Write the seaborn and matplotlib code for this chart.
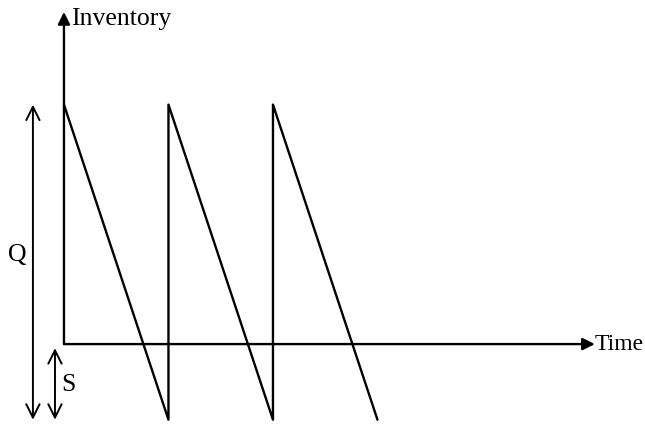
import pandas as pd
import matplotlib
matplotlib.use("Agg")
import matplotlib.pyplot as plt
import seaborn as sns

sns.set_theme(style="white")
plt.rcParams['font.family'] = ['Liberation Serif', 'DejaVu Serif']

# Sawtooth inventory (units: Q = 100, S = 24, cycle length = 1)
Q = 100
S = 24
times = [0, 1, 1, 2, 2, 3]
levels = [Q - S, -S, Q - S, -S, Q - S, -S]

df = pd.DataFrame({'Time': times, 'Inventory': levels})

fig = plt.figure(figsize=(6.45, 4.26), dpi=100)
ax = fig.add_axes([0, 0, 1, 1])

sns.lineplot(data=df, x='Time', y='Inventory', sort=False, estimator=None,
             color='black', linewidth=1.7, ax=ax)

ax.set_xlim(-0.612, 5.56)
ax.set_ylim(-26.0, 109.2)
ax.axis('off')

# axes with filled arrowheads
axis_arrow = dict(arrowstyle='-|>', color='black', lw=1.7, shrinkA=0, shrinkB=0,
                  mutation_scale=18)
ax.annotate('', xy=(0, 105.4), xytext=(0, 0), arrowprops=axis_arrow)
ax.annotate('', xy=(5.08, 0), xytext=(0, 0), arrowprops=axis_arrow)
ax.text(0.07, 103.2, 'Inventory', fontsize=18.5, va='center', ha='left', color='black')
ax.text(5.08, 0, 'Time', fontsize=17, va='center', ha='left', color='black')

# dimension arrows for Q and S
dim_arrow = dict(arrowstyle='<->', color='black', lw=1.4, shrinkA=0, shrinkB=0,
                 mutation_scale=24)
ax.annotate('', xy=(-0.297, Q - S), xytext=(-0.297, -S), arrowprops=dim_arrow)
ax.annotate('', xy=(-0.086, -1.3), xytext=(-0.086, -S), arrowprops=dim_arrow)
ax.text(-0.45, 28.3, 'Q', fontsize=18.5, va='center', ha='center', color='black')
ax.text(0.045, -13, 'S', fontsize=18.5, va='center', ha='center', color='black')

fig.savefig('out.png', dpi=100)
